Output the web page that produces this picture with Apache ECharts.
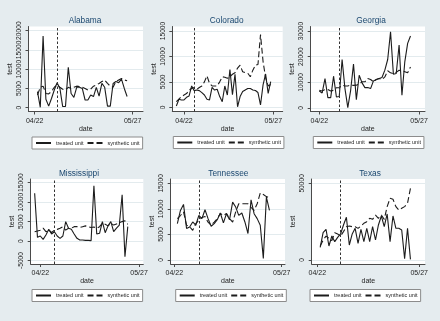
<!DOCTYPE html>
<html>
<head>
<meta charset="utf-8">
<script src="https://cdn.jsdelivr.net/npm/echarts@6/dist/echarts.min.js"></script>
<style>
html,body{margin:0;padding:0;background:#E5ECEF;}
#c{width:440px;height:321px;}
</style>
</head>
<body>
<div id="c"></div>
<script>
// ---------------- DATA ----------------
const states = ['Alabama', 'Colorado', 'Georgia', 'Mississippi', 'Tennessee', 'Texas'];
const seriesNames = ['treated unit', 'synthetic unit'];
// x axis: days counted from 04/22
const xTickDays = [0, 35];
const xTickLabels = ['04/22', '05/27'];

const alabamaTicks = [0, 5000, 10000, 15000, 20000];
const alabamaStartDay = 1;
const alabamaTreatDay = 8;
const alabamaTreated = [4200, 100, 18600, 2200, 400, 2400, 4600, 6500, 5000, 300, 300, 10500, 3700, 2700, 5300, 5300, 5000, 2000, 2000, 3300, 2900, 5300, 3000, 6300, 5300, 400, 400, 6300, 6800, 6500, 7400, 5000, 2900];
const alabamaSynthetic = [3300, 5300, 5600, 3700, 3600, 4200, 5300, 5900, 5300, 4800, 4600, 5300, 5000, 5300, 5600, 5500, 5300, 5000, 4600, 4800, 5600, 5900, 6300, 6800, 7200, 6300, 5600, 5300, 6800, 7200, 7600, 7200, 7000];

const coloradoTicks = [0, 5000, 10000, 15000];
const coloradoStartDay = -3;
const coloradoTreatDay = 4;
const coloradoTreated = [260, 1570, 1440, 1440, 1970, 2230, 4190, 3280, 3400, 3280, 2880, 2420, 1570, 1440, 3930, 3400, 3540, 2100, 1110, 4190, 2420, 7400, 2500, 6500, 100, 2100, 3100, 3400, 3700, 3700, 3400, 3300, 2900, 460, 4400, 6550, 2750, 5040];
const coloradoSynthetic = [1100, 1600, 2100, 2400, 2700, 3400, 3700, 3900, 3500, 3900, 4200, 5000, 6200, 4700, 4200, 4200, 4200, 5000, 6000, 5900, 5700, 6000, 6500, 6800, 7700, 8300, 7000, 6800, 6700, 6000, 7300, 8300, 8400, 14300, 9000, 5800, 4200, 4500];

const georgiaTicks = [0, 10000, 20000, 30000];
const georgiaStartDay = 0;
const georgiaTreatDay = 7;
const georgiaTreated = [6650, 5870, 11480, 4040, 4040, 12390, 4300, 4500, 18900, 7560, 130, 6900, 17080, 3260, 12780, 9780, 7950, 7950, 7560, 10560, 11080, 11480, 11870, 14740, 18900, 29730, 13170, 13430, 24520, 4950, 18000, 25170, 28040];
const georgiaSynthetic = [6900, 6600, 7200, 7200, 6600, 6900, 7900, 7900, 8900, 8600, 8600, 8900, 8800, 8900, 9300, 10200, 10200, 11500, 11100, 10200, 11100, 11500, 11100, 12100, 14500, 13700, 13400, 13900, 14700, 14500, 14100, 13700, 16000];

const mississippiTicks = [-5000, 0, 5000, 10000, 15000];
const mississippiStartDay = -2;
const mississippiTreatDay = 5;
const mississippiTreated = [12300, 950, 1300, 430, 1550, 3020, 1800, 2400, 1300, 700, 1300, 5000, 3280, 3020, 1800, 700, 260, 260, 170, 170, 100, 14200, 1800, 2000, 5000, 2150, 3900, 5000, 2400, 3300, 4100, 11900, -4050, 3700];
const mississippiSynthetic = [2400, 2600, 2800, 3300, 2400, 2800, 2200, 2800, 3000, 3300, 3700, 2800, 3300, 3300, 3700, 3700, 3500, 3700, 3900, 3700, 3500, 3600, 3300, 3700, 4600, 4300, 3900, 4600, 4100, 4400, 4700, 5000, 5200, 4300];

const tennesseeTicks = [0, 5000, 10000, 15000];
const tennesseeStartDay = 1;
const tennesseeTreatDay = 8;
const tennesseeTreated = [7100, 9700, 10870, 6150, 6470, 7440, 6800, 8730, 8090, 9830, 8090, 6600, 7120, 7890, 9190, 7250, 9060, 7890, 11320, 10350, 8730, 9190, 7440, 5180, 11780, 9060, 8090, 6800, 320, 12300, 9700];
const tennesseeSynthetic = [8100, 8700, 9400, 6800, 6500, 5800, 7100, 7800, 8300, 8500, 7400, 6800, 7400, 8100, 9100, 8700, 9100, 8100, 7400, 9400, 11000, 11000, 11000, 11000, 10300, 9700, 11000, 13100, 12800, 12400, 12200];

const texasTicks = [0, 50000];
const texasStartDay = 1;
const texasTreatDay = 8;
const texasTreated = [8260, 17830, 20000, 9130, 15650, 11960, 14780, 16960, 22830, 27830, 9780, 16960, 20650, 10870, 20000, 11960, 20650, 11960, 21740, 13040, 22830, 28700, 21700, 30000, 11960, 28700, 20650, 20650, 19570, 870, 20650, 430];
const texasSynthetic = [9100, 13000, 15600, 14100, 12600, 17800, 16900, 15600, 18500, 21700, 22200, 21700, 21700, 20600, 22200, 23900, 25000, 27200, 26500, 29300, 27200, 29300, 26500, 34800, 40200, 39600, 34800, 32600, 33700, 34800, 37000, 46700];

const panelData = [
  {ticks: alabamaTicks, start: alabamaStartDay, treat: alabamaTreatDay, treated: alabamaTreated, synthetic: alabamaSynthetic},
  {ticks: coloradoTicks, start: coloradoStartDay, treat: coloradoTreatDay, treated: coloradoTreated, synthetic: coloradoSynthetic},
  {ticks: georgiaTicks, start: georgiaStartDay, treat: georgiaTreatDay, treated: georgiaTreated, synthetic: georgiaSynthetic},
  {ticks: mississippiTicks, start: mississippiStartDay, treat: mississippiTreatDay, treated: mississippiTreated, synthetic: mississippiSynthetic},
  {ticks: tennesseeTicks, start: tennesseeStartDay, treat: tennesseeTreatDay, treated: tennesseeTreated, synthetic: tennesseeSynthetic},
  {ticks: texasTicks, start: texasStartDay, treat: texasTreatDay, treated: texasTreated, synthetic: texasSynthetic}
];

// ---------------- LAYOUT ----------------
const layout = [
  {grid: [28.5, 26.5, 114.5, 85], xr: [-2.21, 38.68], yr: [-987, 21091], title: [85, 20.7], legend: [32, 137]},
  {grid: [172.3, 26.5, 110.4, 85], xr: [-4.59, 38.7], yr: [-826, 15885], title: [226.7, 20.7], legend: [173.3, 136.5]},
  {grid: [310.7, 26.5, 114.3, 85], xr: [-3.02, 37.09], yr: [-1364, 31753], title: [371, 20.7], legend: [313.3, 136.5]},
  {grid: [30.7, 179, 112.6, 85], xr: [-3.4, 36.5], yr: [-5900, 15951], title: [79, 173.3], legend: [32, 289.5]},
  {grid: [170.7, 179, 114.3, 85], xr: [-1.17, 36.06], yr: [-782, 15841], title: [228.3, 173.3], legend: [175.7, 289.5]},
  {grid: [311.7, 179, 113.3, 85], xr: [-1.92, 37.0], yr: [-2608, 52803], title: [370, 173.3], legend: [310, 289.5]}
];

const FONT = '"Liberation Sans", Arial, sans-serif';
const AXIS_COLOR = '#4a4a4a';
const TEXT_COLOR = '#1e1e1e';
const LINE_COLOR = '#1c1c1c';

const grids = [], xAxes = [], yAxes = [], series = [], legends = [], graphics = [];

layout.forEach((p, i) => {
  const d = panelData[i];
  grids.push({
    left: p.grid[0], top: p.grid[1], width: p.grid[2], height: p.grid[3],
    show: true, backgroundColor: '#ffffff', borderWidth: 0, containLabel: false
  });
  xAxes.push({
    gridIndex: i, type: 'value', min: p.xr[0], max: p.xr[1],
    axisLine: {show: true, onZero: false, lineStyle: {color: AXIS_COLOR, width: 1}},
    axisTick: {show: true, length: 3, customValues: xTickDays, lineStyle: {color: AXIS_COLOR}},
    axisLabel: {customValues: xTickDays, fontSize: 7, color: TEXT_COLOR, fontFamily: FONT, margin: 6,
      formatter: v => xTickLabels[xTickDays.indexOf(v)] || ''},
    splitLine: {show: false},
    name: 'date', nameLocation: 'middle', nameGap: 14,
    nameTextStyle: {fontSize: 7, color: TEXT_COLOR, fontFamily: FONT}
  });
  yAxes.push({
    gridIndex: i, type: 'value', min: p.yr[0], max: p.yr[1],
    axisLine: {show: true, onZero: false, lineStyle: {color: AXIS_COLOR, width: 1}},
    axisTick: {show: true, length: 3, customValues: d.ticks, lineStyle: {color: AXIS_COLOR}},
    axisLabel: {customValues: d.ticks, rotate: 90, fontSize: 6.7, color: TEXT_COLOR, fontFamily: FONT, margin: 6,
      hideOverlap: false, formatter: v => String(v)},
    splitLine: {show: true, lineStyle: {color: '#E3EBEE', width: 1}},
    name: 'test', nameLocation: 'middle', nameGap: 15,
    nameTextStyle: {fontSize: 7, color: TEXT_COLOR, fontFamily: FONT}
  });
  series.push({
    type: 'line', name: seriesNames[0], xAxisIndex: i, yAxisIndex: i,
    data: d.treated.map((v, k) => [d.start + k, v]),
    symbol: 'none', lineStyle: {color: LINE_COLOR, width: 1.1, type: 'solid'},
    itemStyle: {color: LINE_COLOR},
    markLine: {
      silent: true, symbol: ['none', 'none'], label: {show: false},
      lineStyle: {color: '#333', width: 1, type: [2.5, 2]},
      data: [{xAxis: d.treat}]
    }
  });
  series.push({
    type: 'line', name: seriesNames[1], xAxisIndex: i, yAxisIndex: i,
    data: d.synthetic.map((v, k) => [d.start + k, v]),
    symbol: 'none', lineStyle: {color: LINE_COLOR, width: 1.1, type: [6, 3]},
    itemStyle: {color: LINE_COLOR}
  });
  legends.push({
    left: p.legend[0], top: p.legend[1], orient: 'horizontal',
    data: seriesNames, selectedMode: false,
    itemWidth: 15, itemHeight: 6, itemGap: 3, padding: [3, 3],
    itemStyle: {opacity: 0},
    borderColor: '#8c8c8c', borderWidth: 1, backgroundColor: '#ffffff',
    textStyle: {fontSize: 5.5, color: TEXT_COLOR, fontFamily: FONT}
  });
  graphics.push({
    type: 'text', x: p.title[0], y: p.title[1], silent: true,
    style: {text: states[i], fill: '#1A476F', font: '8.3px ' + FONT, align: 'center', verticalAlign: 'middle'}
  });
});

const chart = echarts.init(document.getElementById('c'), null, {renderer: 'canvas', width: 440, height: 321});
chart.setOption({
  animation: false,
  backgroundColor: '#E5ECEF',
  grid: grids,
  xAxis: xAxes,
  yAxis: yAxes,
  legend: legends,
  series: series,
  graphic: graphics
});
</script>
</body>
</html>
